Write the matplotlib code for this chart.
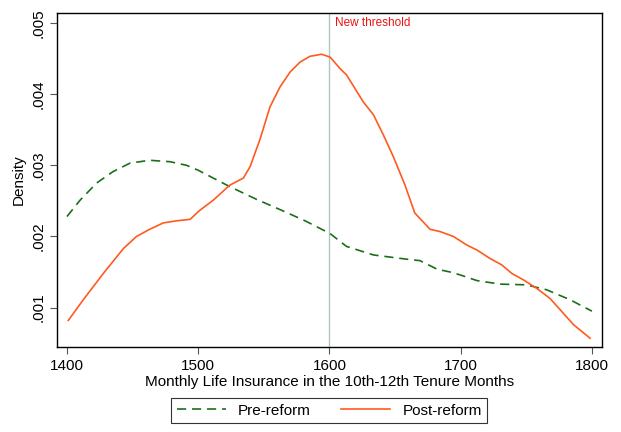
import matplotlib
matplotlib.use("Agg")
import matplotlib.pyplot as plt
from matplotlib.ticker import FuncFormatter

plt.rcParams['font.family'] = ['Liberation Sans', 'DejaVu Sans']

pre_x = [1400, 1410, 1422.6, 1435, 1448, 1463, 1478.5, 1491, 1500, 1524, 1544.6, 1562,
         1581.4, 1600.5, 1613, 1633.5, 1659, 1669, 1682, 1692, 1699.5, 1712.3, 1730,
         1750, 1765.6, 1783.4, 1800]
pre_y = [0.00228, 0.00251, 0.00275, 0.00291, 0.00303, 0.00307, 0.00305, 0.00300, 0.00293,
         0.00270, 0.00252, 0.00238, 0.00222, 0.00204, 0.00186, 0.00174, 0.00168, 0.00166,
         0.00154, 0.00150, 0.00146, 0.00138, 0.00133, 0.00132, 0.00125, 0.00111, 0.00095]

post_x = [1401, 1412.4, 1427.7, 1443, 1453, 1463, 1473.4, 1483.6, 1493.8, 1501.4, 1511.5,
          1524, 1534.4, 1539.5, 1547, 1554.7, 1562.3, 1570, 1577.6, 1585, 1594, 1600.5,
          1608, 1613, 1625.8, 1633.5, 1641, 1648.7, 1657.6, 1665, 1676.7, 1684, 1694.4,
          1704.6, 1712.3, 1722.4, 1731.3, 1739, 1747.8, 1758, 1768, 1775.8, 1786, 1798.6]
post_y = [0.00082, 0.00111, 0.00148, 0.00183, 0.00200, 0.00210, 0.00219, 0.00222, 0.00224,
          0.00237, 0.00251, 0.00272, 0.00282, 0.00298, 0.00336, 0.00382, 0.00410, 0.00431,
          0.00445, 0.00453, 0.00456, 0.00452, 0.00436, 0.00427, 0.00389, 0.00371, 0.00343,
          0.00312, 0.00272, 0.00233, 0.00210, 0.00207, 0.00200, 0.00188, 0.00181, 0.00169,
          0.00160, 0.00148, 0.00139, 0.00127, 0.00113, 0.00097, 0.00076, 0.00057]

x_ticks = [1400, 1500, 1600, 1700, 1800]
y_ticks = [0.001, 0.002, 0.003, 0.004, 0.005]
threshold = 1600

fig = plt.figure(figsize=(6.21, 4.32), dpi=100)
ax = fig.add_axes([0.0918, 0.197, 0.877, 0.773])

ax.axvline(threshold, color='#b4c2c2', lw=1.0, zorder=1)
ax.plot(pre_x, pre_y, color='#1b6e1b', lw=1.2, ls=(0, (5.5, 3.5)), label='Pre-reform', zorder=3)
ax.plot(post_x, post_y, color='#ff5a1f', lw=1.2, label='Post-reform', zorder=3)
ax.text(threshold + 4, 0.00500, 'New threshold', color='#ee1111', fontsize=8.5,
        va='center', ha='left')

ax.set_xlim(1392.4, 1807.4)
ax.set_ylim(0.000448, 0.00514)
ax.set_xticks(x_ticks)
ax.set_yticks(y_ticks)
ax.yaxis.set_major_formatter(FuncFormatter(lambda v, p: ('%.3f' % v).lstrip('0')))
ax.tick_params(axis='both', labelsize=11, length=5, width=0.8, color='#555555')
for lbl in ax.get_yticklabels():
    lbl.set_rotation(90)
    lbl.set_va('center')
for s in ax.spines.values():
    s.set_linewidth(1.0)
    s.set_color('black')

ax.set_xlabel('Monthly Life Insurance in the 10th-12th Tenure Months', fontsize=11, labelpad=2)
ax.set_ylabel('Density', fontsize=11, labelpad=4)

leg = fig.legend(loc='center', bbox_to_anchor=(0.53, 0.049), ncol=2, fontsize=11,
                 frameon=True, fancybox=False, edgecolor='black', handlelength=3.2,
                 columnspacing=2.0, borderpad=0.35)
leg.get_frame().set_linewidth(0.8)

fig.savefig('out.png', dpi=100)
